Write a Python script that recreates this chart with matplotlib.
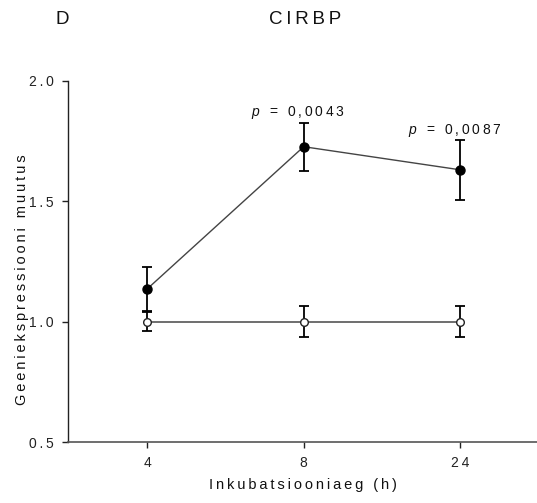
import matplotlib
matplotlib.use("Agg")
import matplotlib.pyplot as plt

plt.rcParams['font.family'] = ['Liberation Sans', 'DejaVu Sans']
plt.rcParams['mathtext.fontset'] = 'custom'
plt.rcParams['mathtext.it'] = 'Liberation Sans:italic'
plt.rcParams['mathtext.rm'] = 'Liberation Sans'

# Data
timepoints = ["4", "8", "24"]
treated_mean = [1.135, 1.726, 1.630]
treated_sem = [0.09, 0.10, 0.125]
control_mean = [1.0, 1.0, 1.0]
control_sem = [0.04, 0.063, 0.063]
p_labels = [None, "0,0043", "0,0087"]
y_ticks = [0.5, 1.0, 1.5, 2.0]

SP = "\u2009"
def spaced(s):
    return SP.join(s)

fig = plt.figure(figsize=(5.37, 5.03), dpi=100)
ax = fig.add_axes([68/537, 1-442/503, 1-68/537, (442-80.7)/503])

x = list(range(len(timepoints)))
ax.errorbar(x, control_mean, yerr=control_sem, fmt='none', ecolor='black',
            elinewidth=1.3, capsize=3.5, capthick=1.3, zorder=2)
ax.plot(x, control_mean, '-', color='#555555', lw=1.2, zorder=3)
ax.plot(x, control_mean, 'o', ms=5.5, mfc='white', mec='#222222', mew=1.0, zorder=4)

ax.errorbar(x, treated_mean, yerr=treated_sem, fmt='none', ecolor='black',
            elinewidth=1.3, capsize=3.5, capthick=1.3, zorder=2)
ax.plot(x, treated_mean, '-', color='#444444', lw=1.0, zorder=3)
ax.plot(x, treated_mean, 'o', ms=6.5, mfc='black', mec='black', zorder=4)

for xi, m, s, p in zip(x, treated_mean, treated_sem, p_labels):
    if p is None:
        continue
    ax.text(xi - 0.035, m + s + 0.04, r"$p\ \ =\ \ $" + spaced(p),
            ha='center', va='center', fontsize=10, color='#111111')

ax.set_xlim(-0.505, 2.49)
ax.set_ylim(0.5, 2.0)
ax.set_xticks(x)
ax.set_xticklabels([spaced(t) for t in timepoints], fontsize=10)
ax.set_yticks(y_ticks)
ax.set_yticklabels([spaced(f"{v:.1f}") for v in y_ticks], fontsize=10)
ax.tick_params(axis='both', length=4, width=1, color='#222222', pad=6, labelcolor='#222222')
for side in ['top', 'right']:
    ax.spines[side].set_visible(False)
ax.spines['left'].set_color('#222222')
ax.spines['bottom'].set_color('#555555')
ax.spines['left'].set_linewidth(1)
ax.spines['bottom'].set_linewidth(1.2)

ax.set_xlabel(spaced("Inkubatsiooniaeg (h)"), fontsize=10.5, labelpad=5.5, color='#111111')
fig.text(22/537, 1-280/503, spaced("Geeniekspressiooni muutus"), rotation=90,
         ha='center', va='center', fontsize=10.5, color='#111111')
fig.text(62/537, 1-19/503, "D", ha='center', va='center', fontsize=13.5, color='#111111')
fig.text(305/537, 1-19/503, spaced("CIRBP"), ha='center', va='center', fontsize=13.5, color='#111111')

fig.savefig("out.png", dpi=100)
